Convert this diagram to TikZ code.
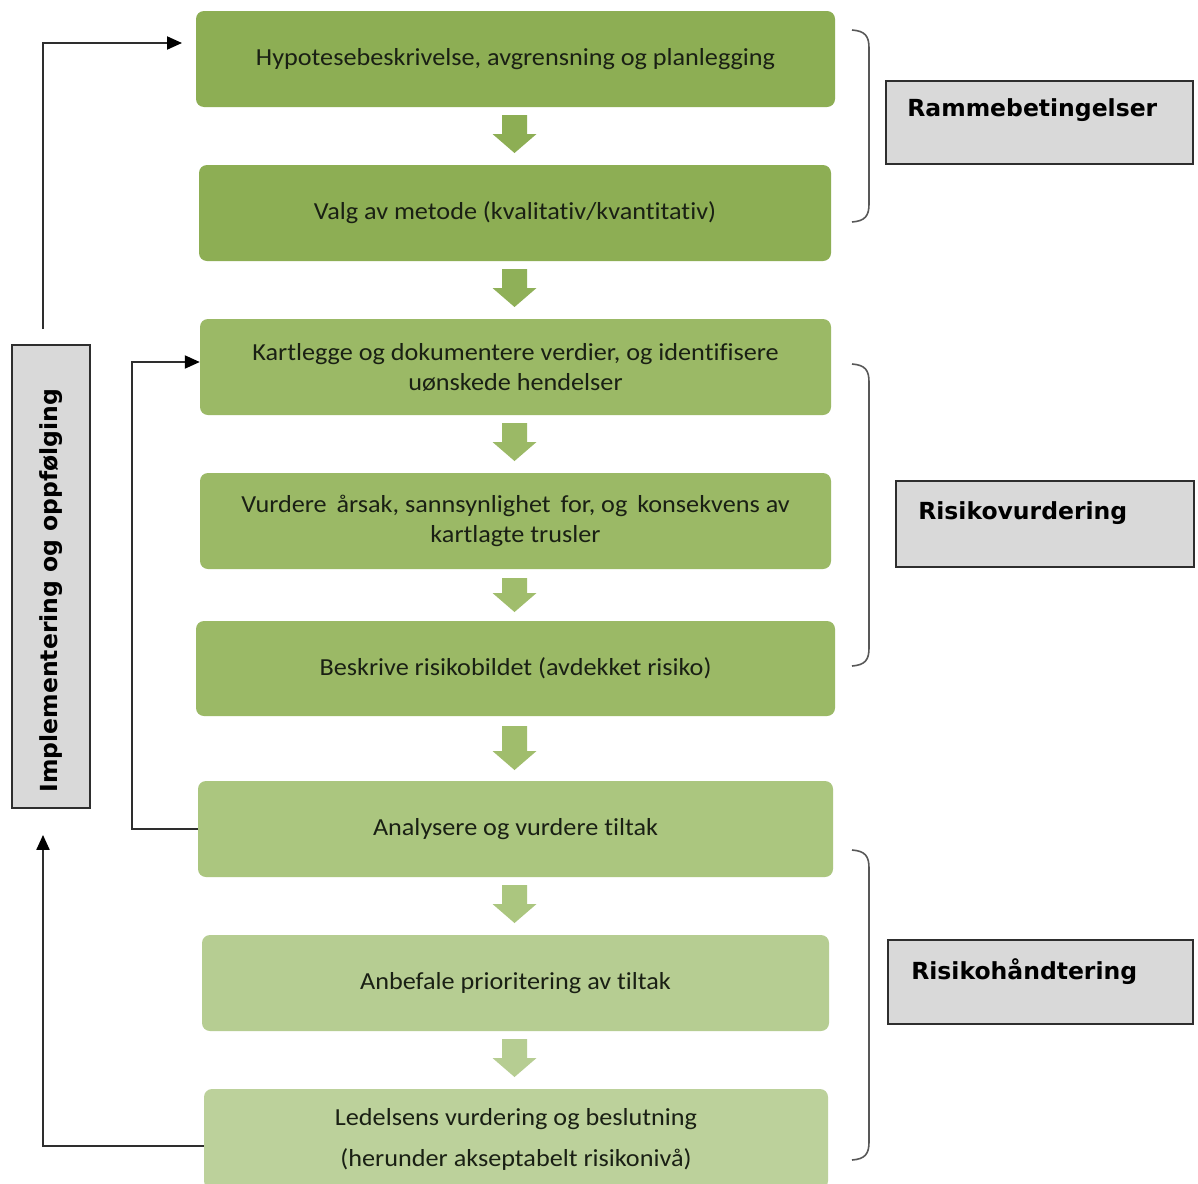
\documentclass[tikz,border=0pt]{standalone}
\usepackage{fontspec}
\setmainfont{Carlito}[Ligatures=NoCommon, FakeStretch=1.07]
\newfontfamily\lblfont{DejaVu Sans}
\usetikzlibrary{arrows.meta}
\definecolor{gA}{HTML}{8DAE54}
\definecolor{gB}{HTML}{8FB058}
\definecolor{gC}{HTML}{9BB966}
\definecolor{gD}{HTML}{A0BD6C}
\definecolor{gE}{HTML}{ABC67F}
\definecolor{gF}{HTML}{B6CD92}
\definecolor{gG}{HTML}{BCD19B}
\definecolor{lgray}{HTML}{D9D9D9}
\definecolor{dgray}{HTML}{2E2E2E}
\definecolor{txt}{HTML}{1A2014}
\tikzset{
  stepbox/.style={rectangle, rounded corners=8pt, draw=none, inner sep=0pt,
    minimum height=96pt, align=center, text=txt, font=\fontsize{24.5}{30}\selectfont},
  lblbox/.style={rectangle, draw=dgray, line width=1.8pt, fill=lgray, inner sep=0pt},
  lbltext/.style={inner sep=0pt, anchor=west, text=black, font=\lblfont\bfseries\fontsize{23.5}{28}\selectfont},
  conn/.style={draw=dgray, line width=2pt},
  connarrow/.style={conn, -{Triangle[length=15pt,width=13pt,color=black]}},
  bracestyle/.style={draw=dgray!80, line width=1.6pt},
}
\newcommand\greenarrow[4]{% x, ytop, ytip, colour
  \fill[#4] (#1-12.5,#2) -- (#1+12.5,#2) -- (#1+12.5,#3-19) -- (#1+22,#3-19)
    -- (#1,#3) -- (#1-22,#3-19) -- (#1-12.5,#3-19) -- cycle;}
\newcommand\sidebrace[2]{% ytop, ybottom
  \draw[bracestyle] (852,#1) .. controls (865,#1+1) and (869,#1+6) .. (869,#1+18)
    -- (869,#2-18) .. controls (869,#2-6) and (865,#2-1) .. (852,#2);}
\begin{document}
\begin{tikzpicture}[x=1pt,y=-1pt]
\useasboundingbox[fill=white] (0,0) rectangle (1198,1183);

% process boxes
\node[stepbox, fill=gA, minimum width=639pt] (b1) at (515.5,59) {Hypotesebeskrivelse, avgrensning og planlegging};
\node[stepbox, fill=gA, minimum width=632pt] (b2) at (515,213) {Valg av metode (kvalitativ/kvantitativ)};
\node[stepbox, fill=gC, minimum width=631pt] (b3) at (515.5,367) {Kartlegge og dokumentere verdier, og identifisere\\uønskede hendelser};
\node[stepbox, fill=gC, minimum width=631pt] (b4) at (515.5,521) {Vurdere\hspace{4pt} årsak, sannsynlighet\hspace{4pt} for, og\hspace{4pt} konsekvens av\\kartlagte trusler};
\node[stepbox, fill=gC, minimum width=639pt, minimum height=95pt] (b5) at (515.5,668.5) {Beskrive risikobildet (avdekket risiko)};
\node[stepbox, fill=gE, minimum width=635pt] (b6) at (515.5,829) {Analysere og vurdere tiltak};
\node[stepbox, fill=gF, minimum width=627pt] (b7) at (515.5,983) {Anbefale prioritering av tiltak};
\node[stepbox, fill=gG, minimum width=624pt, minimum height=100pt, font=\fontsize{24.5}{41}\selectfont] (b8) at (516,1139) {Ledelsens vurdering og beslutning\\(herunder akseptabelt risikonivå)};

% block arrows
\greenarrow{514.5}{115}{153}{gA}
\greenarrow{514.5}{269}{307}{gB}
\greenarrow{514.5}{423}{461}{gC}
\greenarrow{514.5}{578}{612}{gD}
\greenarrow{514.5}{726}{770}{gD}
\greenarrow{514.5}{885}{923}{gE}
\greenarrow{514.5}{1039}{1077}{gF}

% braces
\sidebrace{30}{222}
\sidebrace{364}{666}
\sidebrace{850}{1160}

% label boxes
\node[lblbox, minimum width=307pt, minimum height=83pt] (rb) at (1039.5,122.5) {};
\node[lbltext] (rbt) at ([xshift=22pt,yshift=12pt]rb.west) {Rammebetingelser};
\node[lblbox, minimum width=298pt, minimum height=86pt] (rv) at (1045,524) {};
\node[lbltext] (rvt) at ([xshift=23pt,yshift=11pt]rv.west) {Risikovurdering};
\node[lblbox, minimum width=305pt, minimum height=84pt] (rh) at (1040.5,982) {};
\node[lbltext] (rht) at ([xshift=24pt,yshift=10pt]rh.west) {Risikohåndtering};

% implementation box
\node[lblbox, minimum width=78pt, minimum height=463pt] (impl) at (51,576.5) {};
\node[lbltext, anchor=center, rotate=90] (implt) at ([yshift=-14pt]impl.center) {Implementering og oppfølging};

% connectors
\coordinate (t1) at (182,43);
\draw[connarrow] ([xshift=-8pt,yshift=15pt]impl.north) |- (t1);
\draw[connarrow] (b6.west) -- (132,829) |- ([yshift=5pt]b3.west);
\draw[connarrow] ([yshift=-7pt]b8.west) -| ([xshift=-8pt,yshift=-26pt]impl.south);
\end{tikzpicture}
\end{document}
